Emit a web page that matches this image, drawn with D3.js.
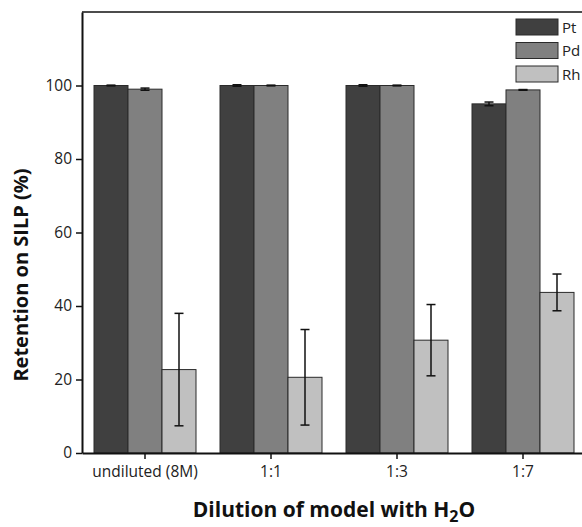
<!DOCTYPE html>
<html>
<head>
    <script src="https://d3js.org/d3.v7.min.js"></script>
    <style>
        body { margin: 0; background: #fff; }
        .tick text { font-family: "Open Sans", sans-serif; font-size: 15.5px; fill: #222; }
        .axis-title { font-family: "Open Sans", sans-serif; font-weight: bold; fill: #111; }
    </style>
</head>
<body>
    <svg width="582" height="527"></svg>
    <script>
        // data
        var dilutions = ["undiluted (8M)", "1:1", "1:3", "1:7"];
        var metals = ["Pt", "Pd", "Rh"];
        var ptValues = [100, 100, 100, 95];
        var pdValues = [99, 100, 100, 98.8];
        var rhValues = [22.7, 20.6, 30.7, 43.7];
        var ptErrors = [0.1, 0.2, 0.2, 0.5];
        var pdErrors = [0.3, 0.1, 0.1, 0.1];
        var rhErrors = [15.3, 13, 9.7, 5];
        var yTicks = [0, 20, 40, 60, 80, 100];
        var colors = {Pt: "#404040", Pd: "#808080", Rh: "#c0c0c0"};

        var svg = d3.select("svg");
        var plotLeft = 82, plotRight = 586, plotTop = 12, plotBottom = 453;

        var rows = [];
        dilutions.forEach(function(d, i) {
            rows.push({dil: d, metal: "Pt", v: ptValues[i], e: ptErrors[i]});
            rows.push({dil: d, metal: "Pd", v: pdValues[i], e: pdErrors[i]});
            rows.push({dil: d, metal: "Rh", v: rhValues[i], e: rhErrors[i]});
        });

        var x = d3.scaleBand().domain(dilutions).range([plotLeft, plotRight]);
        var xi = d3.scaleBand().domain(metals).range([12, x.bandwidth() - 12]);
        var y = d3.scaleLinear().domain([0, 120]).range([plotBottom, plotTop]);

        // bars
        svg.selectAll(".bar")
           .data(rows)
           .enter().append("rect")
           .attr("class", "bar")
           .attr("x", function(d) { return x(d.dil) + xi(d.metal); })
           .attr("y", function(d) { return y(d.v); })
           .attr("width", xi.bandwidth())
           .attr("height", function(d) { return y(0) - y(d.v); })
           .attr("fill", function(d) { return colors[d.metal]; })
           .attr("stroke", "#2a2a2a")
           .attr("stroke-width", 1);

        // error bars
        var eb = svg.selectAll(".err")
           .data(rows)
           .enter().append("g")
           .attr("class", "err")
           .attr("stroke", "#111")
           .attr("stroke-width", 1.5);
        function cx(d) { return x(d.dil) + xi(d.metal) + xi.bandwidth() / 2; }
        eb.append("line")
          .attr("x1", cx).attr("x2", cx)
          .attr("y1", function(d) { return y(d.v + d.e); })
          .attr("y2", function(d) { return y(d.v - d.e); });
        eb.append("line")
          .attr("x1", function(d) { return cx(d) - 4.5; })
          .attr("x2", function(d) { return cx(d) + 4.5; })
          .attr("y1", function(d) { return y(d.v + d.e); })
          .attr("y2", function(d) { return y(d.v + d.e); });
        eb.append("line")
          .attr("x1", function(d) { return cx(d) - 4.5; })
          .attr("x2", function(d) { return cx(d) + 4.5; })
          .attr("y1", function(d) { return y(d.v - d.e); })
          .attr("y2", function(d) { return y(d.v - d.e); });

        // axes
        var ya = svg.append("g")
           .attr("transform", "translate(" + plotLeft + ",0)")
           .call(d3.axisLeft(y).tickValues(yTicks).tickSize(6).tickSizeOuter(0));
        ya.select(".domain").attr("stroke", "#111").attr("stroke-width", 2);
        ya.selectAll(".tick line").attr("stroke", "#111").attr("stroke-width", 1.5);
        ya.selectAll(".tick text").attr("x", -10);

        var xa = svg.append("g")
           .attr("transform", "translate(0," + plotBottom + ")")
           .call(d3.axisBottom(x).tickSize(6).tickSizeOuter(0));
        xa.select(".domain").attr("stroke", "#111").attr("stroke-width", 2);
        xa.selectAll(".tick line").attr("stroke", "#111").attr("stroke-width", 1.5);
        xa.selectAll(".tick text").attr("y", 13);

        // top frame line
        svg.append("line")
           .attr("x1", plotLeft).attr("x2", 582)
           .attr("y1", plotTop).attr("y2", plotTop)
           .attr("stroke", "#111").attr("stroke-width", 1.5);

        // legend
        var lg = svg.selectAll(".leg")
           .data(metals)
           .enter().append("g")
           .attr("class", "leg")
           .attr("transform", function(d, i) { return "translate(516," + (19 + i * 23.5) + ")"; });
        lg.append("rect")
          .attr("width", 42).attr("height", 16)
          .attr("fill", function(d) { return colors[d]; })
          .attr("stroke", "#2a2a2a").attr("stroke-width", 1);
        lg.append("text")
          .attr("x", 46).attr("y", 13.5)
          .style("font-family", "'Open Sans', sans-serif")
          .style("font-size", "15px")
          .attr("fill", "#222")
          .text(function(d) { return d; });

        // titles
        var xt = svg.append("text")
           .attr("class", "axis-title")
           .style("font-size", "21px")
           .attr("x", 334).attr("y", 517)
           .attr("text-anchor", "middle");
        xt.append("tspan").text("Dilution of model with H");
        xt.append("tspan").attr("dy", 5).style("font-size", "16px").text("2");
        xt.append("tspan").attr("dy", -5).text("O");

        svg.append("text")
           .attr("class", "axis-title")
           .style("font-size", "20px")
           .attr("transform", "translate(28,275) rotate(-90)")
           .attr("text-anchor", "middle")
           .text("Retention on SILP (%)");
    </script>
</body>
</html>
